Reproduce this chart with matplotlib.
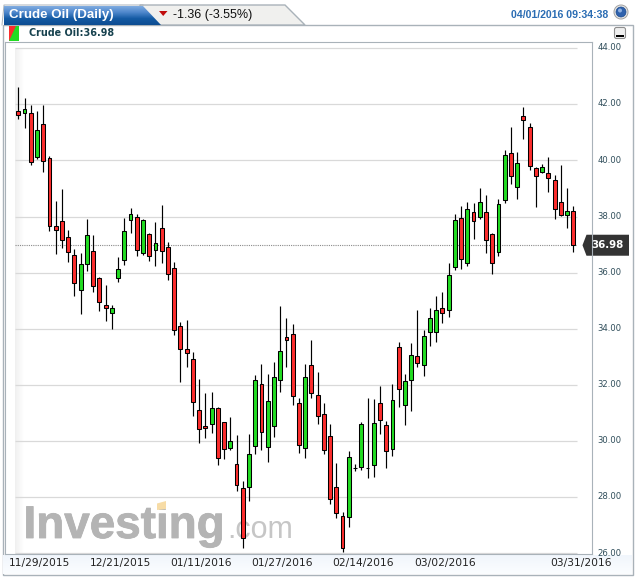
import numpy as np
import matplotlib
matplotlib.use('Agg')
import matplotlib.pyplot as plt
import matplotlib.patheffects as pe
from matplotlib.patches import Polygon, Rectangle, Circle, FancyBboxPatch
from matplotlib.transforms import ScaledTranslation

# daily candles
opens = [41.76, 41.70, 41.68, 40.14, 41.29, 40.08, 37.66, 37.83, 37.28, 36.64,
         35.39, 36.32, 36.78, 35.82, 34.86, 34.58, 35.82, 36.46, 37.89, 37.99,
         36.71, 37.39, 36.82, 37.60, 36.93, 36.18, 34.10, 33.28, 32.93, 31.11,
         30.54, 30.61, 31.18, 30.68, 29.76, 29.19, 28.33, 28.37, 29.83, 32.04,
         29.79, 30.54, 32.18, 33.71, 33.82, 31.36, 29.76, 32.71, 31.64, 30.97,
         30.18, 28.37, 27.33, 27.30, 29.06, 29.08, 29.06, 29.15, 31.36, 30.58,
         29.72, 33.35, 31.29, 32.18, 33.03, 32.71, 33.89, 33.89, 34.74, 34.66,
         36.21, 37.95, 36.35, 38.17, 37.99, 38.17, 37.38, 36.74, 38.59, 40.27,
         39.06, 41.58, 41.19, 39.73, 39.59, 39.55, 39.31, 38.52, 38.06, 38.20]
highs = [42.61, 42.21, 41.96, 41.77, 41.99, 40.15, 38.57, 38.97, 37.54, 36.85,
         36.71, 37.90, 37.35, 35.86, 35.57, 34.86, 36.55, 37.96, 38.29, 38.10,
         37.93, 37.42, 37.80, 38.40, 37.10, 36.39, 34.24, 34.33, 33.18, 32.21,
         31.72, 31.75, 31.20, 30.70, 30.86, 30.22, 28.58, 30.26, 32.36, 32.74,
         32.40, 32.82, 34.83, 34.40, 34.17, 31.54, 32.75, 33.60, 32.46, 31.36,
         30.61, 29.22, 27.48, 29.65, 29.20, 30.68, 31.53, 31.50, 31.98, 30.72,
         32.05, 33.53, 32.40, 33.50, 34.67, 33.96, 34.75, 35.17, 35.31, 36.35,
         38.09, 38.38, 38.51, 38.49, 39.02, 38.77, 37.42, 38.63, 40.37, 41.20,
         40.30, 41.91, 41.34, 39.77, 39.88, 40.12, 39.48, 39.84, 39.02, 38.38]
lows = [41.49, 41.17, 39.83, 40.05, 39.59, 37.50, 36.65, 36.87, 36.39, 35.17,
        34.54, 36.05, 35.31, 34.63, 34.29, 33.99, 35.67, 36.28, 37.40, 36.61,
        36.64, 36.42, 36.24, 36.34, 35.75, 33.78, 32.09, 32.63, 30.88, 29.93,
        30.11, 30.29, 29.15, 29.36, 29.69, 28.21, 26.20, 27.88, 29.53, 29.69,
        29.26, 30.15, 31.74, 32.64, 31.29, 29.58, 29.40, 31.53, 30.62, 29.54,
        27.75, 27.25, 26.05, 26.94, 28.95, 28.97, 28.70, 28.72, 30.27, 29.03,
        29.48, 31.23, 30.56, 31.07, 32.64, 32.33, 33.38, 33.54, 34.20, 34.41,
        36.09, 36.12, 36.24, 37.20, 37.92, 36.69, 35.97, 36.60, 38.47, 39.15,
        38.62, 40.78, 39.66, 38.34, 39.55, 38.87, 37.92, 38.02, 37.60, 36.74]
closes = [41.63, 41.83, 39.93, 41.07, 39.97, 37.66, 37.51, 37.16, 36.75, 35.63,
          36.32, 37.35, 35.54, 34.97, 34.75, 34.75, 36.14, 37.50, 38.10, 36.82,
          37.89, 36.61, 37.07, 36.78, 35.96, 33.97, 33.28, 33.14, 31.39, 30.43,
          30.47, 31.18, 29.40, 29.72, 30.01, 28.44, 26.55, 29.54, 32.18, 30.33,
          31.43, 32.28, 33.21, 33.60, 31.61, 29.86, 32.28, 31.72, 30.90, 29.69,
          27.94, 27.44, 26.20, 29.44, 29.06, 30.61, 29.06, 30.65, 30.75, 29.65,
          31.47, 31.86, 32.14, 33.07, 32.78, 33.74, 34.39, 34.67, 34.56, 35.92,
          37.88, 36.49, 38.27, 37.85, 38.52, 37.17, 36.35, 38.45, 40.20, 39.45,
          39.91, 41.44, 39.80, 39.45, 39.77, 39.38, 38.27, 38.06, 38.20, 36.98]

date_labels = ['11/29/2015', '12/21/2015', '01/11/2016', '01/27/2016',
               '02/14/2016', '03/02/2016', '03/31/2016']
date_ticks = [3.4, 16.4, 29.3, 42.3, 55.3, 68.4, 90.2]
price_ticks = [26, 28, 30, 32, 34, 36, 38, 40, 42, 44]
last_price = 36.98

RED = '#fb2d2d'
GREEN = '#22dc22'
FRAME = '#a9b2b9'
TEAL = '#2f4d5a'
W, H = 637, 580

plt.rcParams['font.family'] = ['DejaVu Sans']
fig = plt.figure(figsize=(W / 100, H / 100), dpi=100, facecolor='white')

# page furniture, in pixel coordinates
bg = fig.add_axes([0, 0, 1, 1])
bg.set_xlim(0, W)
bg.set_ylim(H, 0)
bg.axis('off')

bg.add_patch(Rectangle((2.5, 25), 630, 550, fc='white', ec=FRAME, lw=1))
bg.imshow(np.linspace(0, 1, 20).reshape(-1, 1), extent=(3, 632, 574, 555), aspect='auto',
          cmap=matplotlib.colors.LinearSegmentedColormap.from_list('s', ['#f1f6fc', '#fbfdff']),
          zorder=1)
bg.set_xlim(0, W)
bg.set_ylim(H, 0)

# tabs
grey_tab = Polygon([[140, 5], [285, 5], [305, 25], [140, 25]], fc='#f0f0ee', ec=FRAME, lw=1, zorder=2)
bg.add_patch(grey_tab)
bg.add_patch(Rectangle((2, 4), 4, 21, fc='white', ec='none', zorder=2))
blue_tab = Polygon([[4, 6], [143, 6], [161, 25], [4, 25]], fc='none', ec='none', zorder=3)
bg.add_patch(blue_tab)
grad = bg.imshow(np.linspace(0, 1, 40).reshape(-1, 1), extent=(4, 161, 25, 6), aspect='auto', zorder=3,
                 cmap=matplotlib.colors.LinearSegmentedColormap.from_list(
                     'b', ['#7fabe0', '#4d86cb', '#135aa3', '#0d4d92']))
grad.set_clip_path(blue_tab)
bg.set_xlim(0, W)
bg.set_ylim(H, 0)
bg.plot([2, 4, 143], [25, 5, 5], color=FRAME, lw=0.7, zorder=2)

bg.text(9, 15, 'Crude Oil (Daily)', color='white', fontsize=9.6, fontweight='bold',
        family='Liberation Sans', va='center', zorder=4)
bg.add_patch(Polygon([[159, 11], [167.5, 11], [163.2, 16]], fc='#c00c0c', ec='none', zorder=4))
bg.text(173, 15, '-1.36 (-3.55%)', color='#111111', fontsize=9.0, family='Liberation Sans',
        va='center', zorder=4)
bg.text(608, 14.5, '04/01/2016 09:34:38', color='#2a6cb3', fontsize=7.6, ha='right', va='center',
        family='Liberation Sans', fontweight='bold', zorder=4)

# globe
bg.add_patch(Circle((621, 12), 7, fc='#e8e8e8', ec='#a0a0a0', lw=0.7, zorder=4))
bg.add_patch(Circle((621, 12), 5, fc='#2f62ad', ec='#1c4a8c', lw=0.5, zorder=5))
bg.add_patch(Circle((620, 10.5), 2, fc='#8eb0e0', ec='none', zorder=6))

# legend row
bg.add_patch(Rectangle((9, 26), 10, 15, fc=GREEN, ec='none', zorder=4))
bg.add_patch(Polygon([[9, 26], [16, 26], [9, 41]], fc=RED, ec='none', zorder=5))
bg.text(29, 33.5, 'Crude Oil:36.98', color='#17424f', fontsize=6.9, fontweight='bold', va='center', zorder=4)
bg.add_patch(FancyBboxPatch((614.5, 27.5), 11, 11, boxstyle='round,pad=0,rounding_size=2',
                            fc='#efefef', ec='#8f8f8f', lw=0.8, zorder=4))
bg.add_patch(Rectangle((616, 34.5), 8, 2, fc='black', ec='none', zorder=5))

# shaded edge of the plot
fade = np.linspace(0, 1, 30).reshape(1, -1)
bg.imshow(fade, extent=(15, 24, 554, 48), aspect='auto', zorder=1,
          cmap=matplotlib.colors.LinearSegmentedColormap.from_list('g', ['#f0f0f0', '#ffffff']))
bg.set_xlim(0, W)
bg.set_ylim(H, 0)

# logo
logo = bg.text(23.5, 538, 'Investing', color='#b4b4b4', fontsize=33, fontweight='bold',
               family='Liberation Sans', va='baseline', zorder=2)
logo.set_path_effects([pe.withStroke(linewidth=0.6, foreground='#b4b4b4')])
bg.text(227, 538, '.com', color='#c6c6c6', fontsize=22, family='Liberation Sans',
        va='baseline', zorder=2)
bg.add_patch(Polygon([[157, 503.5], [166, 501], [166, 509], [157, 510]], fc='#f7dca6', ec='none', zorder=3))

# price chart, the box starts at x=5 and the grid at x=15
ax = fig.add_axes([5 / W, (H - 554) / H, 587 / W, 512 / H])
ax.patch.set_alpha(0)
ax.set_xlim(-2.13, 92.0)
ax.set_ylim(25.98, 44.22)

x = np.arange(len(opens))
o = np.array(opens)
c = np.array(closes)
colors = [GREEN if c[i] > o[i] else RED for i in x]

ax.hlines(price_ticks, -0.53, 89.6, color='#d9d9d9', lw=0.9, zorder=1)
ax.plot([-0.53, 89.6], [last_price, last_price], color='#8a8a8a', lw=0.8, ls=(0, (1, 1)), zorder=2)
ax.vlines(x, lows, highs, color='black', lw=0.85, zorder=3)
ax.bar(x, c - o, bottom=o, width=0.62, color=colors, edgecolor='black', lw=0.75, zorder=4)

ax.yaxis.tick_right()
ax.set_yticks(price_ticks)
ax.set_yticklabels(['%.2f' % p for p in price_ticks], color=TEAL, fontsize=6.1)
ax.set_xticks(date_ticks)
ax.set_xticklabels(date_labels, color='#222222', fontsize=7.7)
ax.tick_params(axis='both', length=0)
ax.tick_params(axis='y', pad=4)
ax.tick_params(axis='x', pad=2.6)
# price labels sit a little above their grid lines
up = ScaledTranslation(0, 1 / 72, fig.dpi_scale_trans)
for lab in ax.get_yticklabels():
    lab.set_transform(lab.get_transform() + up)
for s in ax.spines.values():
    s.set_color(FRAME)
    s.set_linewidth(0.8)

# last price tag
tag_y = ax.transData.transform((0, last_price))[1]
tag_py = H - tag_y
bg.add_patch(Polygon([[582.5, tag_py], [586.5, tag_py - 10.5], [629, tag_py - 10.5],
                      [629, tag_py + 10.5], [586.5, tag_py + 10.5]],
                     fc='#333333', ec='none', zorder=8))
ax.set_zorder(1)
bg.set_zorder(0)
ax.text(607.5 / W, tag_y / H, '%.2f' % last_price, transform=fig.transFigure, color='white',
        fontsize=7.4, fontweight='bold', ha='center', va='center', zorder=9)

fig.savefig('out.png', dpi=100)
